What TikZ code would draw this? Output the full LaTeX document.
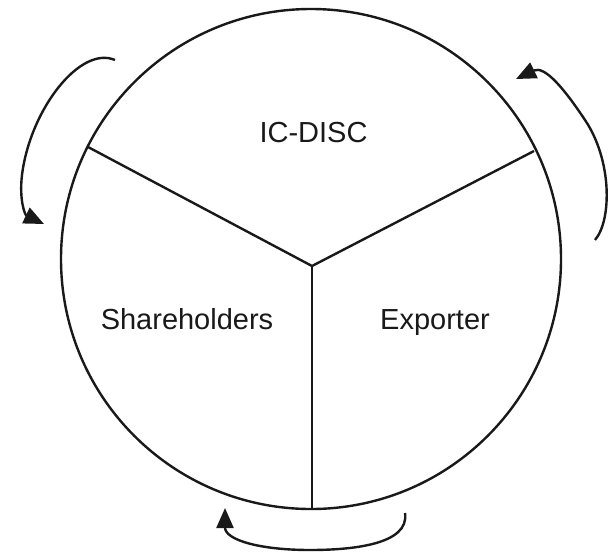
\documentclass[tikz,border=0pt]{standalone}
\usepackage{fontspec}
\setmainfont{Liberation Sans}
\usetikzlibrary{arrows.meta}
\begin{document}
\begin{tikzpicture}[x=1pt,y=-1pt,
  outline/.style={line width=2.4pt,draw=black!90},
  flow/.style={line width=2.4pt,draw=black!90,-{Triangle[length=20pt,width=17pt]}},
  label/.style={font=\fontsize{29}{34}\selectfont,anchor=base,text=black!90}]
\useasboundingbox (0,0) rectangle (615,552);
% the wheel and its three sectors
\coordinate (c) at (311,259);
\draw[outline] (c) circle[radius=250pt];
\coordinate (hub) at (312,266);
\coordinate (ul) at (88,147);
\coordinate (ur) at (534,151);
\coordinate (bt) at (312,508);
\draw[outline] (ul) -- (hub) -- (ur);
\draw[outline] (hub) -- (bt);
% sector names
\node[label] (disc) at (313.5,142) {IC-DISC};
\node[label] (share) at (187,329) {Shareholders};
\node[label] (exp) at (435,329) {Exporter};
% circulating arrows around the wheel
\coordinate (a1s) at (115,60);
\coordinate (a1e) at (44,224);
\draw[flow] (a1s) .. controls (80,45) and (30,110) .. (22,175)
  .. controls (19,200) and (25,215) .. (a1e);
\coordinate (a2s) at (595,240);
\coordinate (a2e) at (516,79);
\draw[flow] (a2s) .. controls (612,220) and (612,160) .. (585,120)
  .. controls (565,90) and (545,65) .. (a2e);
\coordinate (a3s) at (405,513);
\coordinate (a3e) at (225,508);
\draw[flow] (a3s) .. controls (410,545) and (350,550) .. (310,550)
  .. controls (260,550) and (225,540) .. (a3e);
\end{tikzpicture}
\end{document}
